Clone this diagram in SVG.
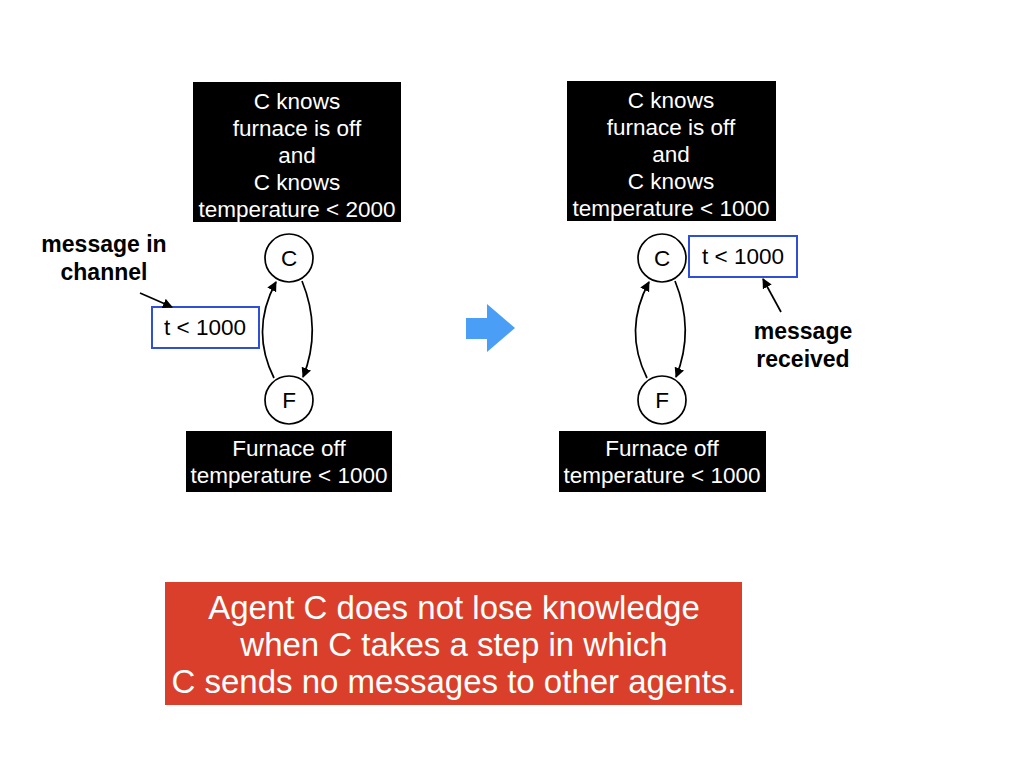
<svg xmlns="http://www.w3.org/2000/svg" width="1024" height="768" viewBox="0 0 1024 768">
<defs>
<marker id="ah" viewBox="0 0 10 10" refX="9" refY="5" markerWidth="10" markerHeight="10" markerUnits="userSpaceOnUse" orient="auto">
<path d="M0,0 L10,5 L0,10 z" fill="#000"/>
</marker>
<style>
.blk{fill:#000}
.wt{fill:#fff;font-family:"Liberation Sans",Arial,sans-serif;font-size:22.5px;text-anchor:middle}
.nd{fill:#fff;stroke:#000;stroke-width:1.7}
.lt{fill:#000;font-family:"Liberation Sans",Arial,sans-serif;font-size:22.5px;text-anchor:middle}
.bd{fill:#000;font-family:"Liberation Sans",Arial,sans-serif;font-size:23px;font-weight:bold;text-anchor:middle}
.msg{fill:#fff;stroke:#2F4FD6;stroke-width:2}
.edge{fill:none;stroke:#000;stroke-width:1.7;marker-end:url(#ah)}
.rt{fill:#fff;font-family:"Liberation Sans",Arial,sans-serif;font-size:33px;text-anchor:middle}
</style>
</defs>
<rect width="1024" height="768" fill="#fff"/>

<g id="left-c-state">
<rect class="blk" x="193" y="82" width="208" height="140"/>
<text class="wt" x="297" y="109">C knows</text>
<text class="wt" x="297" y="136">furnace is off</text>
<text class="wt" x="297" y="163">and</text>
<text class="wt" x="297" y="190">C knows</text>
<text class="wt" x="297" y="217">temperature &lt; 2000</text>
</g>
<g id="left-C">
<circle class="nd" cx="289" cy="258" r="24"/>
<text class="lt" x="289" y="266">C</text>
</g>
<g id="left-F">
<circle class="nd" cx="289" cy="400" r="24"/>
<text class="lt" x="289" y="408">F</text>
</g>
<g id="left-msg">
<rect class="msg" x="152" y="307" width="107" height="41"/>
<text class="lt" x="205" y="335">t &lt; 1000</text>
</g>
<g id="left-msg-label">
<text class="bd" x="104" y="252">message in</text>
<text class="bd" x="104" y="280">channel</text>
</g>
<g id="left-f-state">
<rect class="blk" x="186" y="431" width="206" height="61"/>
<text class="wt" x="289" y="456">Furnace off</text>
<text class="wt" x="289" y="483">temperature &lt; 1000</text>
</g>

<g id="step-arrow">
<polygon points="466,318 487,318 487,304 515,328 487,352 487,339 466,339" fill="#4A9EF5"/>
</g>

<g id="right-c-state">
<rect class="blk" x="567" y="81" width="209" height="140"/>
<text class="wt" x="671" y="108">C knows</text>
<text class="wt" x="671" y="135">furnace is off</text>
<text class="wt" x="671" y="162">and</text>
<text class="wt" x="671" y="189">C knows</text>
<text class="wt" x="671" y="216">temperature &lt; 1000</text>
</g>
<g id="right-C">
<circle class="nd" cx="662" cy="258" r="24"/>
<text class="lt" x="662" y="266">C</text>
</g>
<g id="right-F">
<circle class="nd" cx="662" cy="400" r="24"/>
<text class="lt" x="662" y="408">F</text>
</g>
<g id="right-msg">
<rect class="msg" x="689" y="236" width="108" height="41"/>
<text class="lt" x="743" y="264">t &lt; 1000</text>
</g>
<g id="right-msg-label">
<text class="bd" x="803" y="339">message</text>
<text class="bd" x="803" y="367">received</text>
</g>
<g id="right-f-state">
<rect class="blk" x="559" y="431" width="207" height="61"/>
<text class="wt" x="662" y="456">Furnace off</text>
<text class="wt" x="662" y="483">temperature &lt; 1000</text>
</g>

<g id="connectors">
<path class="edge" d="M302,281 Q322,330 303,377"/>
<path class="edge" d="M274,378 Q250,330 276,282"/>
<path class="edge" d="M675,281 Q695,330 676,377"/>
<path class="edge" d="M647,378 Q623,330 649,282"/>
<path class="edge" d="M140,293 L172,307"/>
<path class="edge" d="M781,312 L763,279"/>
</g>

<g id="conclusion">
<rect x="165" y="582" width="577" height="123" fill="#DA3F2B"/>
<text class="rt" x="454" y="619">Agent C does not lose knowledge</text>
<text class="rt" x="454" y="656">when C takes a step in which</text>
<text class="rt" x="454" y="693">C sends no messages to other agents.</text>
</g>
</svg>
